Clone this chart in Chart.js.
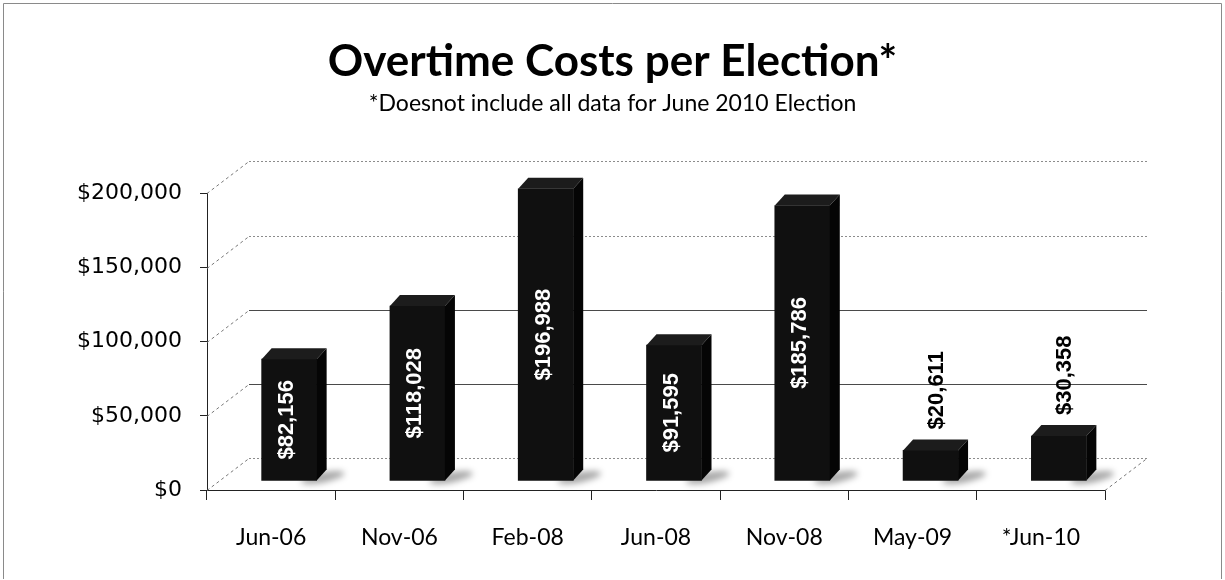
<!DOCTYPE html>
<html>
<head>
<meta charset="utf-8">
<title>Overtime Costs per Election</title>
<script src="https://cdn.jsdelivr.net/npm/chart.js@4.4.1/dist/chart.umd.min.js"></script>
<style>
    html, body { margin: 0; padding: 0; background: #fff; }
    #wrap { width: 1225px; height: 580px; position: relative; }
</style>
</head>
<body>
<div id="wrap"><canvas id="costChart" width="1225" height="580"></canvas></div>
<script>
const categories = ['Jun-06', 'Nov-06', 'Feb-08', 'Jun-08', 'Nov-08', 'May-09', '*Jun-10'];
const overtimeCosts = [82156, 118028, 196988, 91595, 185786, 20611, 30358];
const yTickValues = [0, 50000, 100000, 150000, 200000];

// fake 3d: back wall offset, bar offset into the depth, bar thickness
const WALL = { dx: 42, dy: -32 };
const BAR_SHIFT = { dx: 18, dy: -9 };
const BAR_DEPTH = { dx: 10, dy: -11 };

const money = v => '$' + Number(v).toLocaleString('en-US');

const frame = {
    id: 'frame',
    beforeDraw(chart) {
        const ctx = chart.ctx;
        ctx.save();
        ctx.strokeStyle = '#8a8a8a';
        ctx.lineWidth = 1;
        ctx.beginPath();
        ctx.moveTo(3.5, 579);
        ctx.lineTo(3.5, 3.5);
        ctx.lineTo(1221.5, 3.5);
        ctx.lineTo(1221.5, 579);
        ctx.stroke();
        ctx.restore();
    }
};

const threeD = {
    id: 'threeD',
    beforeDatasetsDraw(chart) {
        const { ctx, chartArea: a, scales: { y } } = chart;
        ctx.save();
        ctx.lineWidth = 1;
        yTickValues.forEach(v => {
            const py = Math.round(y.getPixelForValue(v)) + 0.5;
            // diagonal from the front axis back to the wall
            ctx.strokeStyle = '#777';
            ctx.setLineDash([3, 3]);
            ctx.beginPath();
            ctx.moveTo(a.left, py);
            ctx.lineTo(a.left + WALL.dx, py + WALL.dy);
            ctx.stroke();
            // gridline on the back wall
            ctx.setLineDash(v >= 150000 || v === 0 ? [2, 2] : []);
            ctx.strokeStyle = v >= 150000 || v === 0 ? '#8c8c8c' : '#4a4a4a';
            ctx.beginPath();
            ctx.moveTo(a.left + WALL.dx, py + WALL.dy);
            ctx.lineTo(a.right + WALL.dx, py + WALL.dy);
            ctx.stroke();
        });
        // right edge of the floor
        const py0 = Math.round(y.getPixelForValue(0)) + 0.5;
        ctx.setLineDash([3, 3]);
        ctx.strokeStyle = '#777';
        ctx.beginPath();
        ctx.moveTo(a.right, py0);
        ctx.lineTo(a.right + WALL.dx, py0 + WALL.dy);
        ctx.stroke();
        ctx.restore();
    },
    beforeDatasetDraw(chart, args) {
        const ctx = chart.ctx;
        ctx.save();
        ctx.translate(BAR_SHIFT.dx, BAR_SHIFT.dy);
        // soft floor shadow to the right of each bar
        args.meta.data.forEach(bar => {
            const { x, base, width } = bar.getProps(['x', 'base', 'width'], true);
            ctx.save();
            ctx.filter = 'blur(3px)';
            ctx.fillStyle = 'rgba(0,0,0,0.35)';
            ctx.beginPath();
            ctx.ellipse(x + width / 2 + 6, base - 3, 22, 5, -0.2, 0, Math.PI * 2);
            ctx.fill();
            ctx.restore();
        });
    },
    afterDatasetDraw(chart, args) {
        const ctx = chart.ctx;
        args.meta.data.forEach((bar, i) => {
            const { x, y, base, width } = bar.getProps(['x', 'y', 'base', 'width'], true);
            const l = x - width / 2, r = x + width / 2;
            // top face
            ctx.fillStyle = '#1c1c1c';
            ctx.beginPath();
            ctx.moveTo(l, y);
            ctx.lineTo(l + BAR_DEPTH.dx, y + BAR_DEPTH.dy);
            ctx.lineTo(r + BAR_DEPTH.dx, y + BAR_DEPTH.dy);
            ctx.lineTo(r, y);
            ctx.closePath();
            ctx.fill();
            // side face
            ctx.fillStyle = '#050505';
            ctx.beginPath();
            ctx.moveTo(r, y);
            ctx.lineTo(r + BAR_DEPTH.dx, y + BAR_DEPTH.dy);
            ctx.lineTo(r + BAR_DEPTH.dx, base + BAR_DEPTH.dy);
            ctx.lineTo(r, base);
            ctx.closePath();
            ctx.fill();

            // value label, rotated
            const value = overtimeCosts[i];
            const inside = value >= 50000;
            ctx.save();
            ctx.font = 'bold 22px "Liberation Sans Narrow", "Liberation Sans", sans-serif';
            ctx.fillStyle = inside ? '#fff' : '#000';
            ctx.textBaseline = 'middle';
            if (inside) {
                ctx.translate(x - 2, (y + base) / 2);
                ctx.rotate(-Math.PI / 2);
                ctx.textAlign = 'center';
            } else {
                ctx.translate(x + 6, y + BAR_DEPTH.dy - 10);
                ctx.rotate(-Math.PI / 2);
                ctx.textAlign = 'left';
            }
            ctx.fillText(money(value), 0, 0);
            ctx.restore();
        });
        ctx.restore();
    }
};

new Chart(document.getElementById('costChart'), {
    type: 'bar',
    data: {
        labels: categories,
        datasets: [{
            label: 'Overtime Costs',
            data: overtimeCosts,
            backgroundColor: '#101010',
            borderWidth: 0,
            barThickness: 55,
            clip: false
        }]
    },
    options: {
        responsive: false,
        animation: false,
        events: [],
        layout: { padding: { left: 60, right: 60, top: 0, bottom: 0 } },
        plugins: {
            legend: { display: false },
            tooltip: { enabled: false },
            title: {
                display: true,
                text: 'Overtime Costs per Election*',
                color: '#000',
                font: { family: 'Lato', size: 44, weight: 'bold' },
                padding: { top: 35, bottom: 0 }
            },
            subtitle: {
                display: true,
                text: '*Doesnot include all data for June 2010 Election',
                color: '#000',
                font: { family: 'Lato', size: 23 },
                padding: { top: 2, bottom: 76 }
            }
        },
        scales: {
            x: {
                grid: { display: true, drawOnChartArea: false, drawTicks: true, tickLength: 10, color: '#222', offset: true },
                border: { display: true, color: '#222', width: 1 },
                ticks: { color: '#000', padding: 24, font: { family: 'Lato', size: 23 } },
                afterFit(scale) { scale.height = 90; }
            },
            y: {
                min: 0,
                max: 200000,
                afterBuildTicks(scale) { scale.ticks = yTickValues.map(v => ({ value: v })); },
                grid: { display: true, drawOnChartArea: false, drawTicks: true, tickLength: 7, color: '#222' },
                border: { display: true, color: '#222', width: 1 },
                ticks: { color: '#000', padding: 18, font: { family: 'DejaVu Sans', size: 22 }, callback: v => money(v) },
                afterFit(scale) { scale.width = 147; }
            },
            // empty right-hand box that leaves room for the back wall
            spacer: {
                position: 'right',
                min: 0,
                max: 200000,
                grid: { display: false },
                border: { display: false },
                ticks: { display: false },
                afterFit(scale) { scale.width = 60; }
            }
        }
    },
    plugins: [frame, threeD]
});
</script>
</body>
</html>
